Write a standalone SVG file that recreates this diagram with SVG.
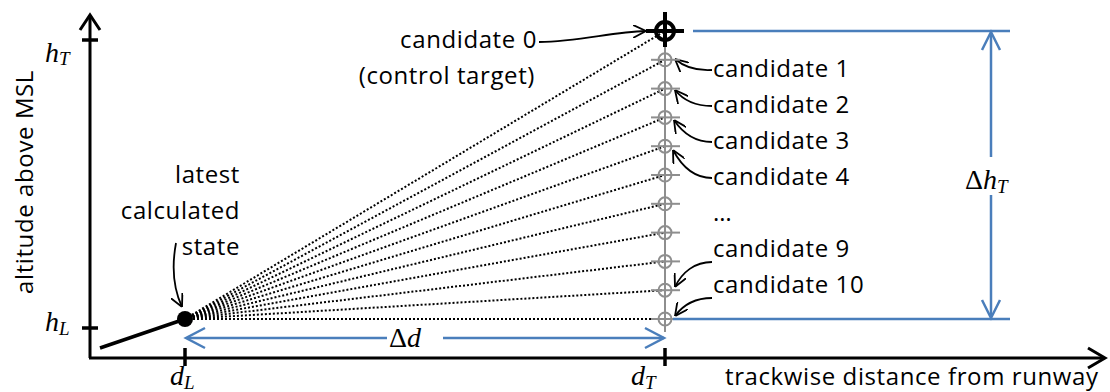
<svg xmlns="http://www.w3.org/2000/svg" width="1110" height="392" viewBox="0 0 1110 392">
<defs>
<style>
.lbl{font-family:"Open Sans","Liberation Sans",sans-serif;font-size:24px;letter-spacing:0.6px;fill:#000}
.math{font-family:"Liberation Serif",serif;font-style:italic;font-size:28px;fill:#000}
.sub{font-size:19px}
.up{font-style:normal}
.axis{stroke:#000;stroke-width:3;fill:none}
.tick{stroke:#000;stroke-width:3.5;fill:none}
.blue{stroke:#4a7ebb;stroke-width:2.5;fill:none}
.gray{stroke:#8e8e8e;stroke-width:2;fill:none}
.dot{stroke:#000;stroke-width:2;stroke-dasharray:2 2;fill:none}
.arr{stroke:#000;stroke-width:1.8;fill:none;marker-end:url(#ah)}
</style>
<marker id="ah" viewBox="0 0 10 10" refX="10" refY="5" markerWidth="13" markerHeight="13" markerUnits="userSpaceOnUse" orient="auto">
<path d="M0,0 L10,5 L0,10" fill="none" stroke="#000" stroke-width="1.4"/>
</marker>
</defs>
<rect width="1110" height="392" fill="#fff"/>

<g id="axes">
<line class="axis" x1="90" y1="15" x2="90" y2="358"/>
<polyline class="axis" points="80,30 90,15 100,30"/>
<line class="axis" x1="89" y1="358" x2="1104" y2="358"/>
<polyline class="axis" points="1088,348 1105,358 1088,368"/>
<line class="tick" x1="82" y1="40" x2="98" y2="40"/>
<line class="tick" x1="82" y1="328" x2="98" y2="328"/>
<line class="tick" x1="185" y1="348" x2="185" y2="366"/>
<line class="tick" x1="665" y1="348" x2="665" y2="366"/>
<text class="lbl" transform="translate(33,182) rotate(-90)" text-anchor="middle">altitude above MSL</text>
<text class="lbl" x="725" y="385">trackwise distance from runway</text>
<text class="math" x="45" y="62">h<tspan class="sub" dy="3">T</tspan></text>
<text class="math" x="45" y="331">h<tspan class="sub" dy="4">L</tspan></text>
<text class="math" x="170" y="385">d<tspan class="sub" dy="4">L</tspan></text>
<text class="math" x="631" y="385">d<tspan class="sub" dy="4">T</tspan></text>
</g>

<g id="trajectory">
<line x1="100" y1="348" x2="185" y2="319" stroke="#000" stroke-width="3.5"/>
<circle cx="185" cy="319" r="8" fill="#000"/>
</g>

<g id="connectors">
<line class="dot" x1="185" y1="319" x2="665" y2="31"/>
<line class="dot" x1="185" y1="319" x2="665" y2="59.8"/>
<line class="dot" x1="185" y1="319" x2="665" y2="88.6"/>
<line class="dot" x1="185" y1="319" x2="665" y2="117.4"/>
<line class="dot" x1="185" y1="319" x2="665" y2="146.2"/>
<line class="dot" x1="185" y1="319" x2="665" y2="175"/>
<line class="dot" x1="185" y1="319" x2="665" y2="203.8"/>
<line class="dot" x1="185" y1="319" x2="665" y2="232.6"/>
<line class="dot" x1="185" y1="319" x2="665" y2="261.4"/>
<line class="dot" x1="185" y1="319" x2="665" y2="290.2"/>
<line class="dot" x1="185" y1="319" x2="665" y2="319"/>
<path class="arr" d="M539,42 C580,42 610,32 646,31"/>
<path class="arr" d="M176,243 C171,270 175,292 182,307"/>
<path class="arr" d="M712,70 C695,71 683,66 675,59"/>
<path class="arr" d="M712,106 C695,106 683,100 675,90"/>
<path class="arr" d="M712,142 C694,142 682,132 674,120"/>
<path class="arr" d="M712,178 C694,178 681,165 673,150"/>
<path class="arr" d="M712,262 C695,262 682,272 675,287"/>
<path class="arr" d="M712,298 C695,298 683,305 675,316"/>
</g>

<g id="candidates">
<line class="gray" x1="665" y1="42" x2="665" y2="332"/>
<g class="gray">
<circle cx="665" cy="59.8" r="6.5"/><line x1="651" y1="59.8" x2="680" y2="59.8"/>
<circle cx="665" cy="88.6" r="6.5"/><line x1="651" y1="88.6" x2="680" y2="88.6"/>
<circle cx="665" cy="117.4" r="6.5"/><line x1="651" y1="117.4" x2="680" y2="117.4"/>
<circle cx="665" cy="146.2" r="6.5"/><line x1="651" y1="146.2" x2="680" y2="146.2"/>
<circle cx="665" cy="175" r="6.5"/><line x1="651" y1="175" x2="680" y2="175"/>
<circle cx="665" cy="203.8" r="6.5"/><line x1="651" y1="203.8" x2="680" y2="203.8"/>
<circle cx="665" cy="232.6" r="6.5"/><line x1="651" y1="232.6" x2="680" y2="232.6"/>
<circle cx="665" cy="261.4" r="6.5"/><line x1="651" y1="261.4" x2="680" y2="261.4"/>
<circle cx="665" cy="290.2" r="6.5"/><line x1="651" y1="290.2" x2="680" y2="290.2"/>
<circle cx="665" cy="319" r="6.5"/><line x1="651" y1="319" x2="680" y2="319"/>
</g>
</g>

<g id="target">
<circle cx="665" cy="31" r="9" fill="none" stroke="#000" stroke-width="4"/>
<line x1="646" y1="31" x2="684" y2="31" stroke="#000" stroke-width="4"/>
<line x1="665" y1="12" x2="665" y2="47" stroke="#000" stroke-width="4"/>
</g>

<g id="labels">
<text class="lbl" x="537" y="48" text-anchor="end">candidate 0</text>
<text class="lbl" x="535" y="84" text-anchor="end">(control target)</text>
<text class="lbl" x="240" y="183" text-anchor="end">latest</text>
<text class="lbl" x="240" y="219" text-anchor="end">calculated</text>
<text class="lbl" x="240" y="255" text-anchor="end">state</text>
<text class="lbl" x="713" y="77">candidate 1</text>
<text class="lbl" x="713" y="113">candidate 2</text>
<text class="lbl" x="713" y="149">candidate 3</text>
<text class="lbl" x="713" y="185">candidate 4</text>
<text class="lbl" x="713" y="221">…</text>
<text class="lbl" x="713" y="257">candidate 9</text>
<text class="lbl" x="713" y="293">candidate 10</text>
</g>

<g id="dimensions">
<line class="blue" x1="693" y1="31" x2="1010" y2="31"/>
<line class="blue" x1="673" y1="319" x2="1010" y2="319"/>
<line class="blue" x1="991" y1="33" x2="991" y2="157"/>
<line class="blue" x1="991" y1="195" x2="991" y2="317"/>
<polyline class="blue" points="982,50 991,32 1000,50"/>
<polyline class="blue" points="982,300 991,318 1000,300"/>
<text class="math" x="965" y="189"><tspan class="up">Δ</tspan>h<tspan class="sub" dy="4">T</tspan></text>
<line class="blue" x1="187" y1="338" x2="387" y2="338"/>
<line class="blue" x1="443" y1="338" x2="664" y2="338"/>
<polyline class="blue" points="205,328 186,338 205,348"/>
<polyline class="blue" points="645,328 664,338 645,348"/>
<text class="math" x="389" y="347"><tspan class="up">Δ</tspan>d</text>
</g>
</svg>
